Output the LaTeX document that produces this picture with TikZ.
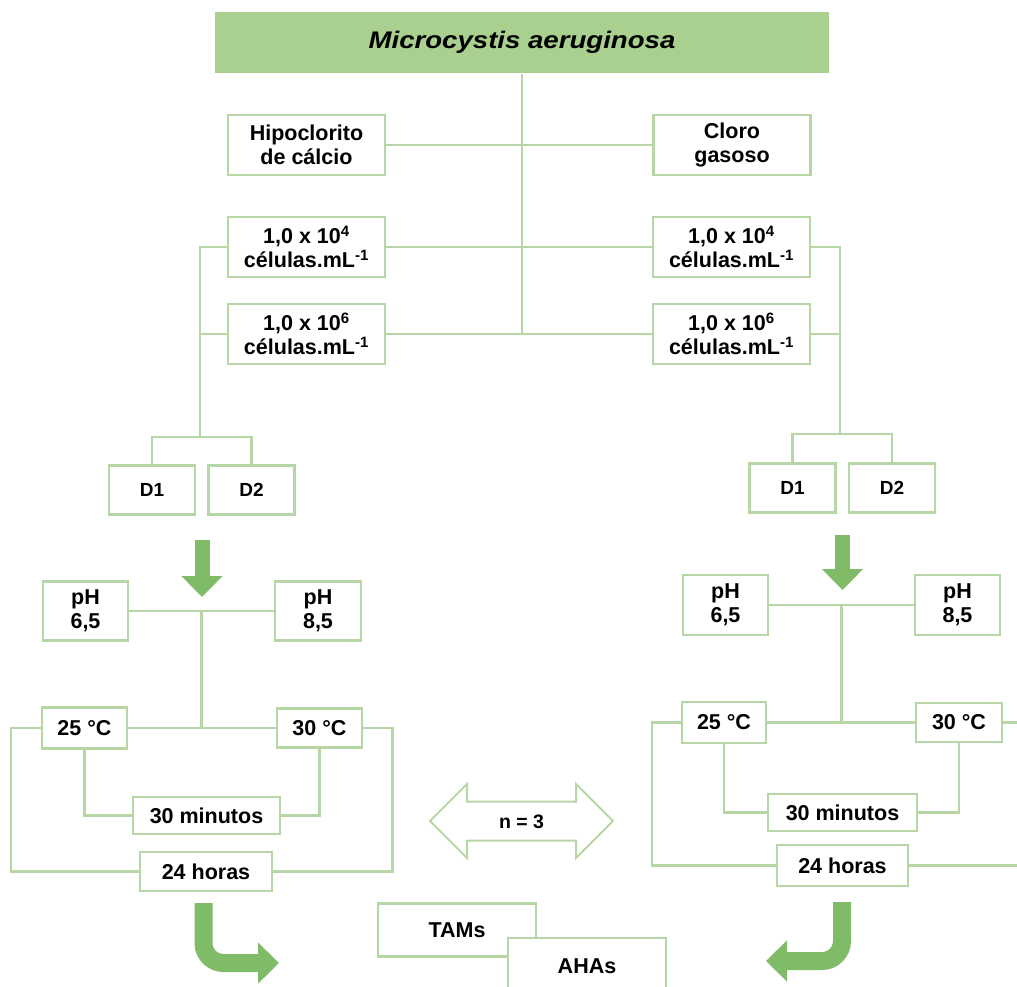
\documentclass[tikz,border=0pt]{standalone}
\usepackage{fontspec}
\setmainfont{Liberation Sans}
\newfontfamily\titrefont{Liberation Sans}[FakeStretch=1.15]
\usetikzlibrary{arrows.meta,shapes.arrows,positioning,calc}
\definecolor{vertclair}{RGB}{183,214,166}
\definecolor{verttitre}{RGB}{169,208,142}
\definecolor{vertfleche}{RGB}{128,188,103}

\begin{document}
\begin{tikzpicture}[x=1pt,y=-1pt]
%styles : boites, liaisons, grosses fleches
\tikzset{boite/.style={draw=vertclair,line width=2.5pt,fill=white,align=center,inner sep=0pt,font=\bfseries\fontsize{21.5}{24}\selectfont}}
\tikzset{taille/.style 2 args={minimum width=#1pt,minimum height=#2pt}}
\tikzset{petit/.style={font=\bfseries\fontsize{19}{22}\selectfont}}
\tikzset{lien/.style={draw=vertclair,line width=2.5pt}}
\tikzset{fleche/.style={draw=vertfleche,line width=15pt,-{Triangle[length=21pt,width=40pt]}}}
\tikzset{coude/.style={fleche,line width=18pt,rounded corners=20pt}}
\tikzset{doublefl/.style={double arrow,draw=vertclair,line width=2pt,fill=white,minimum height=183pt,double arrow head extend=17.5pt,inner xsep=0pt,inner ysep=11.5pt,text height=14pt,text depth=0pt,font=\bfseries\fontsize{19.5}{22}\selectfont}}
\useasboundingbox (0,0) rectangle (1017,986);

% en-tete et deux chlores
\node[boite,taille={614}{61},fill=verttitre,draw=none,font=\titrefont\bfseries\itshape\fontsize{24}{28}\selectfont] (titre) at (522,42.5) {Microcystis aeruginosa};
\node[boite,taille={157}{60}] (hipo) at (306.5,145) {Hipoclorito\\de cálcio};
\node[boite,taille={157}{60}] (cloro) at (732,145) {Cloro\\gasoso};
\node[boite,taille={157}{60}] (g4) at (306.5,247) {1,0 x 10\textsuperscript{4}\\células.mL\textsuperscript{-1}};
\node[boite,taille={157}{60}] (g6) at (306.5,334) {1,0 x 10\textsuperscript{6}\\células.mL\textsuperscript{-1}};
\node[boite,taille={157}{60}] (d4) at (731.5,247) {1,0 x 10\textsuperscript{4}\\células.mL\textsuperscript{-1}};
\node[boite,taille={157}{60}] (d6) at (731.5,334) {1,0 x 10\textsuperscript{6}\\células.mL\textsuperscript{-1}};

% D1 / D2
\node[boite,petit,taille={86}{49}] (gD1) at (152,490) {D1};
\node[boite,petit,taille={86}{49},right=11pt of gD1] (gD2) {D2};
\node[boite,petit,taille={86}{49}] (dD1) at (792.5,488) {D1};
\node[boite,petit,taille={86}{49},right=11pt of dD1] (dD2) {D2};

% bloc gauche
\node[boite,taille={85}{59}] (phG1) at (85.5,611) {pH\\6,5};
\node[boite,taille={86}{59}] (phG2) at (318,611) {pH\\8,5};
\node[boite,taille={85}{41}] (tG1) at (84.5,728) {25 °C};
\node[boite,taille={85}{39}] (tG2) at (319.5,728) {30 °C};
\node[boite,taille={147}{37}] (mG) at (206.5,815.5) {30 minutos};
\node[boite,taille={132}{39}] (hG) at (206,871.5) {24 horas};

% bloc droit
\node[boite,taille={85}{60}] (phD1) at (725.5,605) {pH\\6,5};
\node[boite,taille={85}{60}] (phD2) at (957.5,605) {pH\\8,5};
\node[boite,taille={84}{41}] (tD1) at (724,722.5) {25 °C};
\node[boite,taille={86}{39}] (tD2) at (959,722.5) {30 °C};
\node[boite,taille={149}{37}] (mD) at (842.5,812.5) {30 minutos};
\node[boite,taille={131}{41}] (hD) at (842.5,865.5) {24 horas};

\node[doublefl] (n3) at (521.5,821) {n = 3};
\node[boite,taille={158}{53}] (tams) at (457,930) {TAMs};
\node[boite,taille={158}{56}] (ahas) at (587,966) {AHAs};

% liaisons
\draw[lien] (titre.south) -- (titre.south |- g6.east);
\draw[lien] (hipo.east) -- (cloro.west);
\draw[lien] (g4.east) -- (d4.west);
\draw[lien] (g6.east) -- (d6.west);
\coordinate (brG) at (200,437);
\draw[lien] (g4.west) -| (brG);
\draw[lien] (g6.west) -- (g6.west -| brG);
\draw[lien] (gD1.north) |- (brG) -| (gD2.north);
\coordinate (brD) at (840,434);
\draw[lien] (d4.east) -| (brD);
\draw[lien] (d6.east) -- (d6.east -| brD);
\draw[lien] (dD1.north) |- (brD) -| (dD2.north);

\coordinate (mil) at ($(phG1.east)!.5!(phG2.west)$);
\draw[lien] (phG1.east) -- (phG2.west);
\draw[lien] (tG1.east) -- (tG2.west);
\draw[lien] (mil) -- (mil |- tG1.east);
\draw[lien] (tG1.west) -- ++(-30,0) |- (hG.west);
\draw[lien] (tG2.east) -- ++(29,0) |- (hG.east);
\draw[lien] (tG1.south) |- (mG.west);
\draw[lien] (tG2.south) |- (mG.east);

\coordinate (mid) at ($(phD1.east)!.5!(phD2.west)$);
\draw[lien] (phD1.east) -- (phD2.west);
\draw[lien] (tD1.east) -- (tD2.west);
\draw[lien] (mid) -- (mid |- tD1.east);
\draw[lien] (tD1.west) -- ++(-29,0) |- (hD.west);
\draw[lien] (tD2.east) -- ++(30,0);
\draw[lien] (hD.east) -- ++(115,0);
\draw[lien] (tD1.south) |- (mD.west);
\draw[lien] (tD2.south) |- (mD.east);

% grosses fleches vertes
\draw[fleche] (202,540) -- (202,597);
\draw[fleche] (842.5,535) -- (842.5,590);
\draw[coude] (203.5,903) |- (279,963);
\draw[coude] (842,902) |- (766,961);
\end{tikzpicture}
\end{document}
